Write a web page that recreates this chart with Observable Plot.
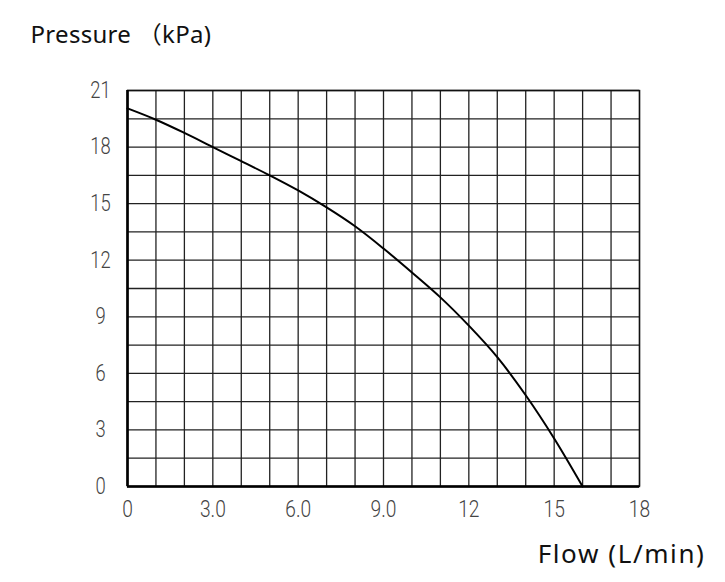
<!DOCTYPE html>
<html>
<head>
<meta charset="utf-8">
<script src="https://cdn.jsdelivr.net/npm/d3@7"></script>
<script src="https://cdn.jsdelivr.net/npm/@observablehq/plot@0.6"></script>
<style>
  html, body { margin: 0; padding: 0; background: #fff; }
</style>
</head>
<body>
<div id="chart"></div>
<script>
const flow = [0, 1, 2, 3, 4, 5, 6, 7, 8, 9, 10, 11, 12, 13, 14, 15, 16];
const pressure = [20.05, 19.45, 18.75, 18.0, 17.25, 16.5, 15.7, 14.8, 13.8, 12.62, 11.35, 10.03, 8.53, 6.86, 4.84, 2.55, 0];

const xTicks = [0, 3, 6, 9, 12, 15, 18];
const xTickLabels = ["0", "3.0", "6.0", "9.0", "12", "15", "18"];
const yTicks = [0, 3, 6, 9, 12, 15, 18, 21];
const yTickLabels = ["0", "3", "6", "9", "12", "15", "18", "21"];
const xGrid = d3.range(0, 19, 1);
const yGrid = d3.range(0, 22, 1.5);

const yTitle = "Pressure （kPa)";
const xTitle = "Flow (L/min)";

const data = flow.map((f, i) => ({flow: f, pressure: pressure[i]}));

const tickFont = "Roboto, 'DejaVu Sans', sans-serif";
const titleFont = "'Noto Sans', 'Noto Sans CJK SC', sans-serif";

const chart = Plot.plot({
  width: 725,
  height: 582,
  marginLeft: 127,
  marginRight: 86,
  marginTop: 90,
  marginBottom: 96,
  style: {background: "#fff"},
  x: {domain: [0, 18]},
  y: {domain: [0, 21]},
  marks: [
    Plot.ruleX(xGrid, {stroke: "#222", strokeWidth: 1.3}),
    Plot.ruleY(yGrid, {stroke: "#222", strokeWidth: 1.3}),
    Plot.frame({stroke: "#111", strokeWidth: 1.4}),
    Plot.ruleX([0], {stroke: "#000", strokeWidth: 2.6}),
    Plot.ruleY([0], {stroke: "#000", strokeWidth: 2.6}),
    Plot.line(data, {x: "flow", y: "pressure", stroke: "#000", strokeWidth: 2, curve: "catmull-rom"}),
    Plot.axisX({
      ticks: xTicks,
      tickSize: 0,
      tickPadding: 13,
      tickFormat: (d) => xTickLabels[xTicks.indexOf(d)],
      label: null,
      fontSize: 24,
      fontWeight: 300,
      fontFamily: tickFont,
      fill: "#444"
    }),
    Plot.axisY({
      ticks: yTicks,
      tickSize: 0,
      tickPadding: 27,
      textAnchor: "middle",
      tickFormat: (d) => yTickLabels[yTicks.indexOf(d)],
      label: null,
      fontSize: 23,
      fontWeight: 300,
      fontFamily: tickFont,
      fill: "#444"
    }),
    Plot.text([yTitle], {
      frameAnchor: "top-left",
      dx: -97,
      dy: -48,
      text: (d) => d,
      textAnchor: "start",
      lineAnchor: "bottom",
      fontSize: 24,
      fontFamily: titleFont,
      fill: "#111"
    }),
    Plot.text([xTitle], {
      frameAnchor: "bottom-right",
      dx: 66,
      dy: 76,
      text: (d) => d,
      textAnchor: "end",
      lineAnchor: "bottom",
      fontSize: 26,
      fontFamily: titleFont,
      fill: "#111"
    })
  ]
});

document.getElementById("chart").appendChild(chart);

// condense the tick label glyphs horizontally (narrow CAD-style digits)
d3.select(chart)
  .selectAll("g[aria-label='x-axis tick label'] text, g[aria-label='y-axis tick label'] text")
  .each(function () {
    const bb = this.getBBox();
    const cx = bb.x + bb.width / 2;
    const t = this.getAttribute("transform") || "";
    this.setAttribute("transform", `${t} translate(${cx},0) scale(0.8,1) translate(${-cx},0)`);
  });
d3.select(chart).selectAll("g[aria-label='text'] text")
  .filter(function () { return this.textContent === xTitle; })
  .attr("letter-spacing", "1.6px");
d3.select(chart).selectAll("g[aria-label='text'] text")
  .filter(function () { return this.textContent === yTitle; })
  .attr("letter-spacing", "0.3px");
</script>
</body>
</html>
